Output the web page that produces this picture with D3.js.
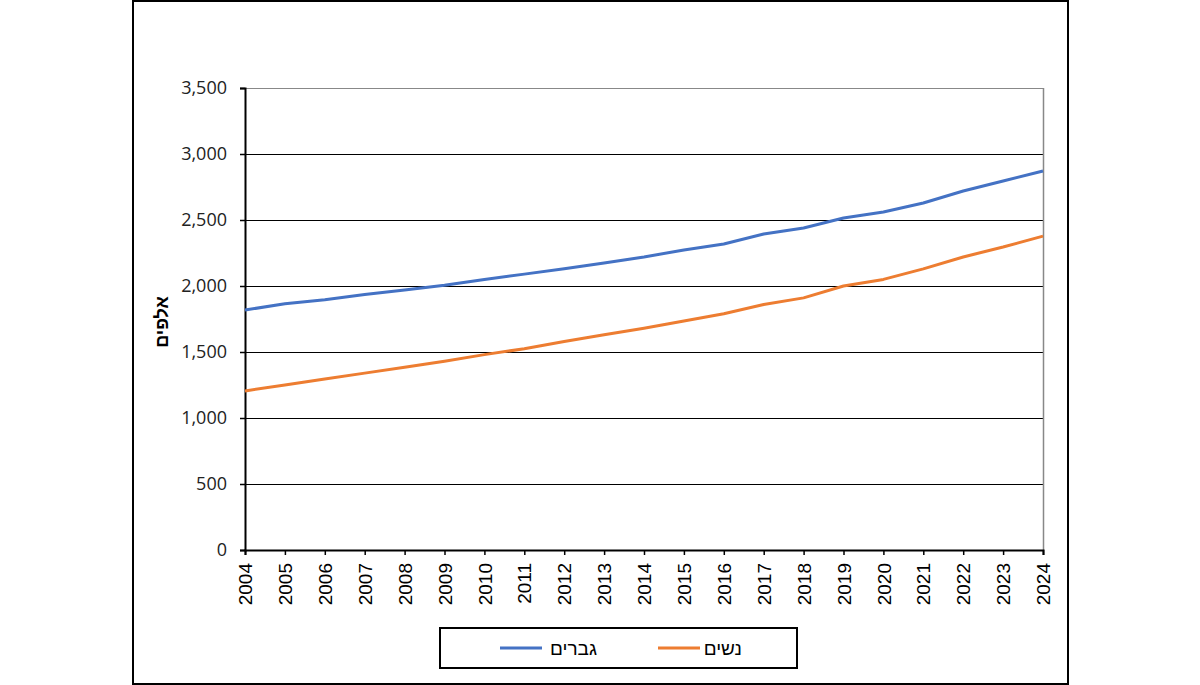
<!DOCTYPE html>
<html><head><meta charset="utf-8">
<script src="https://cdn.jsdelivr.net/npm/d3@7"></script>
<style>body{margin:0;background:#fff}svg{display:block}text{font-family:"Liberation Sans",Arial,sans-serif}</style>
</head><body><svg id="c" width="1200" height="685"></svg>
<script>
const years = [2004,2005,2006,2007,2008,2009,2010,2011,2012,2013,2014,2015,2016,2017,2018,2019,2020,2021,2022,2023,2024];
const men   = [1818,1865,1895,1935,1970,2005,2050,2090,2130,2175,2220,2273,2318,2394,2439,2515,2561,2629,2720,2795,2871];
const women = [1205,1250,1295,1340,1385,1430,1480,1525,1580,1630,1680,1735,1790,1860,1910,2000,2050,2130,2220,2295,2378];
const yTicks = [0,500,1000,1500,2000,2500,3000,3500];
const seriesNames = ["גברים","נשים"];
const colors = ["#4472C4","#ED7D31"];
const yTitle = "אלפים";

const svg = d3.select("#c");
const L=245,R=1043,T=88,B=550;
const x = d3.scaleLinear().domain([2004,2024]).range([L,R]);
const y = d3.scaleLinear().domain([0,3500]).range([B,T]);

svg.append("rect").attr("x",133).attr("y",1).attr("width",935).attr("height",683)
  .attr("fill","#fff").attr("stroke","#000").attr("stroke-width",2);

// gridlines
svg.append("g").selectAll("line").data(yTicks.filter(d=>d>0)).join("line")
  .attr("x1",L).attr("x2",R).attr("y1",d=>Math.round(y(d))+0.5).attr("y2",d=>Math.round(y(d))+0.5)
  .attr("stroke",d=>d===3500?"#888":"#000").attr("stroke-width",1);
// right border
svg.append("line").attr("x1",R+0.5).attr("x2",R+0.5).attr("y1",T).attr("y2",B).attr("stroke","#888").attr("stroke-width",1.5);

// y axis
const ya = svg.append("g").attr("transform",`translate(${L},0)`)
  .call(d3.axisLeft(y).tickValues(yTicks).tickSize(5).tickPadding(13).tickFormat(d3.format(",")));
ya.select(".domain").attr("stroke","#000").attr("stroke-width",2);
ya.selectAll(".tick line").attr("stroke","#000").attr("stroke-width",1.5);
ya.selectAll("text").style("font-size","18px").style("fill","#222").style("font-family","'Open Sans', sans-serif");

// x axis
const xa = svg.append("g").attr("transform",`translate(0,${B})`)
  .call(d3.axisBottom(x).tickValues(years).tickSize(5).tickFormat(d3.format("d")));
xa.select(".domain").attr("stroke","#000").attr("stroke-width",2);
xa.selectAll(".tick line").attr("stroke","#000").attr("stroke-width",1.5);
xa.selectAll("text").style("font-size","19px").style("fill","#000").style("font-family","'Liberation Sans', Arial, sans-serif")
  .attr("transform","rotate(-90)").attr("text-anchor","end").attr("x",-13).attr("y",0).attr("dy","0.35em");

// lines
const line = d3.line().x((d,i)=>x(years[i])).y(d=>y(d));
[men,women].forEach((s,i)=>{
  svg.append("path").datum(s).attr("d",line).attr("fill","none")
    .attr("stroke",colors[i]).attr("stroke-width",3).attr("stroke-linejoin","round");
});

// y title
svg.append("text").attr("transform","translate(168,322) rotate(-90)").attr("text-anchor","middle")
  .style("font-size","18px").attr("font-weight","bold").attr("fill","#000").text(yTitle);

// legend
svg.append("rect").attr("x",440).attr("y",628).attr("width",357).attr("height",40)
  .attr("fill","#fff").attr("stroke","#000").attr("stroke-width",2);
const leg = [{x1:500,x2:542,tx:597},{x1:658,x2:700,tx:742}];
leg.forEach((l,i)=>{
  svg.append("line").attr("x1",l.x1).attr("x2",l.x2).attr("y1",648).attr("y2",648)
    .attr("stroke",colors[i]).attr("stroke-width",3);
  svg.append("text").attr("x",l.tx).attr("y",655).attr("text-anchor","end").style("font-size","19px")
    .attr("fill","#000").text(seriesNames[i]);
});
</script></body></html>
